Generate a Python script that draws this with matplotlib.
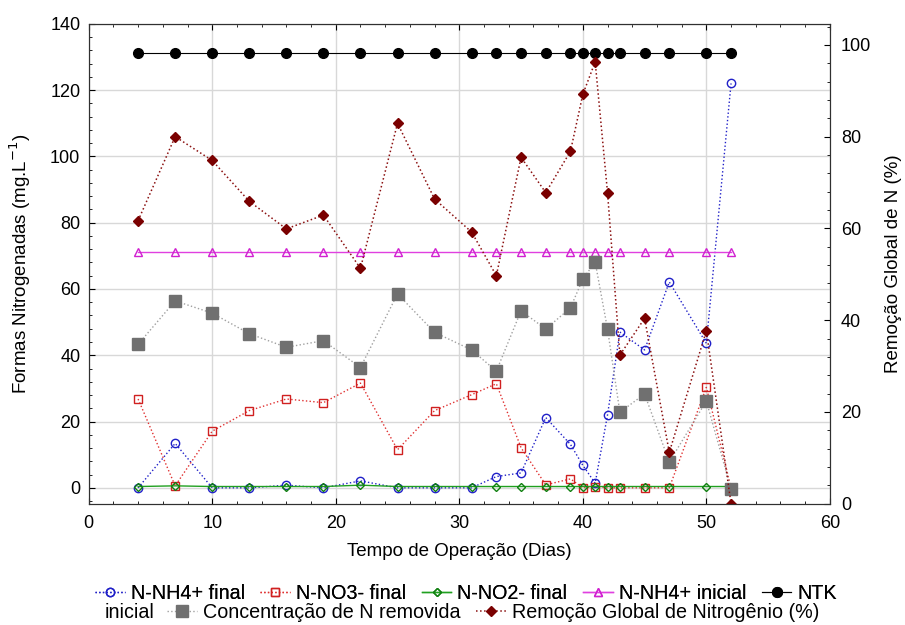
import matplotlib
matplotlib.use("Agg")
import matplotlib.pyplot as plt
from matplotlib.ticker import MultipleLocator

plt.rcParams["font.family"] = ["Liberation Sans Narrow", "Liberation Sans", "DejaVu Sans"]

dias = [4, 7, 10, 13, 16, 19, 22, 25, 28, 31, 33, 35, 37, 39, 40, 41, 42, 43, 45, 47, 50, 52]
nh4_final = [0, 13.4, 0, 0, 0.8, 0, 2.1, 0, 0, 0, 3.4, 4.5, 21.2, 13.1, 6.8, 1.4,
             22, 47, 41.6, 62.1, 43.6, 122]
no3_final = [26.8, 0.6, 17.1, 23.3, 26.8, 25.7, 31.6, 11.5, 23.3, 28.1, 31.4, 12.1,
             0.9, 2.7, 0, 0.4, 0, 0, 0, 0, 30.3, 0]
no2_final = [0.4, 0.6, 0.4, 0.4, 0.4, 0.4, 0.8, 0.4, 0.4, 0.4, 0.4, 0.4,
             0.4, 0.4, 0.4, 0.4, 0.4, 0.4, 0.4, 0.4, 0.4, 0.4]
nh4_inicial = [71] * len(dias)
ntk_inicial = [131.2] * len(dias)
n_removida = [43.3, 56.4, 52.7, 46.5, 42.4, 44.4, 36.3, 58.5, 46.9, 41.6, 35.2, 53.4,
              47.9, 54.3, 63, 68.1, 47.9, 22.8, 28.3, 7.8, 26.2, -0.4]
remocao = [61.7, 80.0, 74.8, 65.9, 59.9, 62.9, 51.3, 82.9, 66.4, 59.2, 49.7, 75.5,
           67.8, 76.8, 89.2, 96.3, 67.8, 32.4, 40.4, 11.2, 37.7, 0]

fig = plt.figure(figsize=(9.05, 6.25), dpi=100)
ax = fig.add_axes([0.098, 0.194, 0.819, 0.768])
ax2 = ax.twinx()

l1, = ax.plot(dias, nh4_final, ls=":", color="#2020c8", lw=1, marker="o", ms=6,
              mfc="none", mec="#2020c8", label="N-NH4+ final")
l2, = ax.plot(dias, no3_final, ls=":", color="#e03030", lw=1, marker="s", ms=6,
              mfc="none", mec="#d02020", label="N-NO3- final")
l3, = ax.plot(dias, no2_final, ls="-", color="#20a020", lw=1, marker="D", ms=4.5,
              mfc="none", mec="#108010", label="N-NO2- final")
l4, = ax.plot(dias, nh4_inicial, ls="-", color="#e040e0", lw=1, marker="^", ms=6,
              mfc="none", mec="#d020d0", label="N-NH4+ inicial")
l5, = ax.plot(dias, ntk_inicial, ls="-", color="#000000", lw=0.8, marker="o", ms=7,
              mfc="black", mec="black", label="NTK")
l6, = ax.plot(dias, n_removida, ls=":", color="#a0a0a0", lw=1, marker="s", ms=8,
              mfc="#707070", mec="#707070", label="Concentração de N removida")
l7, = ax2.plot(dias, remocao, ls=":", color="#8b1010", lw=1.1, marker="D", ms=5.5,
               mfc="#7a0000", mec="#7a0000", label="Remoção Global de Nitrogênio (%)")

ax.set_xlim(0, 60)
ax.set_ylim(-4.8, 140)
ax2.set_ylim(0, 104.6)
ax.xaxis.set_major_locator(MultipleLocator(10))
ax.xaxis.set_minor_locator(MultipleLocator(2))
ax.yaxis.set_major_locator(MultipleLocator(20))
ax.yaxis.set_minor_locator(MultipleLocator(4))
ax2.yaxis.set_major_locator(MultipleLocator(20))
ax2.yaxis.set_minor_locator(MultipleLocator(4))
ax.grid(True, which="major", color="#d8d8d8", lw=1)
ax.set_axisbelow(True)

ax.tick_params(axis="both", which="both", direction="in", top=True, labelsize=13)
ax.tick_params(which="major", length=4)
ax.tick_params(which="minor", length=2.5)
ax.tick_params(axis="x", pad=8)
ax.tick_params(axis="y", pad=6)
ax2.tick_params(axis="y", which="both", direction="in", labelsize=13, pad=8)
ax2.tick_params(which="major", length=4)
ax2.tick_params(which="minor", length=2.5)
for a in (ax, ax2):
    for s in a.spines.values():
        s.set_color("#303030")

ax.set_xlabel("Tempo de Operação (Dias)", fontsize=13.5, labelpad=8)
ax.set_ylabel("Formas Nitrogenadas (mg.L$^{-1}$)", fontsize=13.5, labelpad=12)
ax2.set_ylabel("Remoção Global de N (%)", fontsize=13.5, labelpad=10)

leg_kw = dict(frameon=False, fontsize=14.2, handlelength=1.5, handletextpad=0.3,
              columnspacing=0.8, borderaxespad=0, borderpad=0)
leg1 = fig.legend(handles=[l1, l2, l3, l4, l5], loc="center left",
                  bbox_to_anchor=(0.105, 0.050), ncol=5, **leg_kw)
fig.add_artist(leg1)
fig.text(0.116, 0.0195, "inicial", fontsize=14.2, va="center")
fig.legend(handles=[l6, l7], loc="center left", bbox_to_anchor=(0.185, 0.0195),
           ncol=2, **leg_kw)

fig.savefig("out.png", dpi=100)
